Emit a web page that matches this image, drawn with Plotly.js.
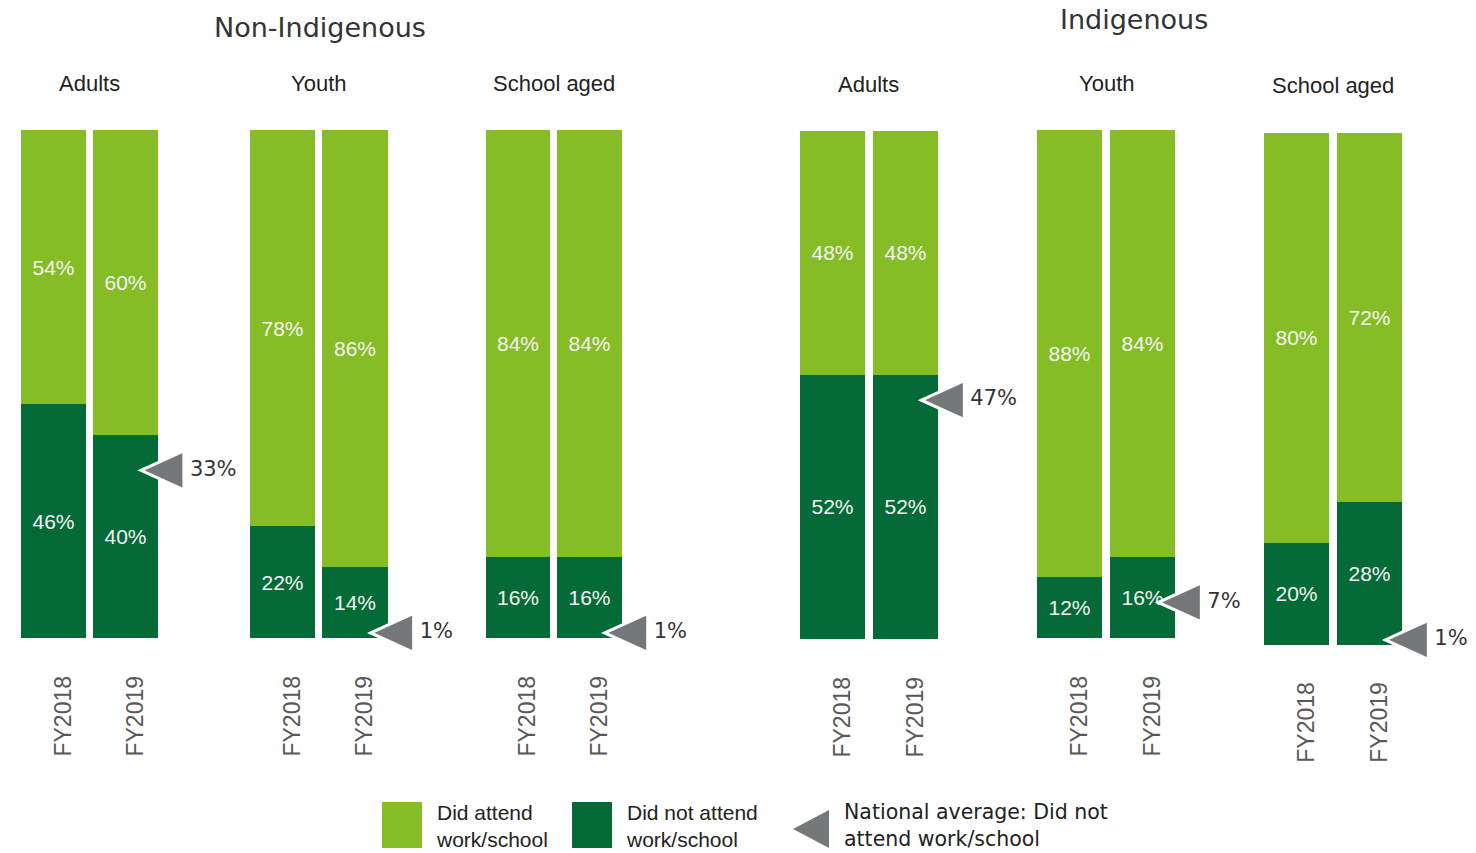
<!DOCTYPE html>
<html>
<head>
<meta charset="utf-8">
<script src="https://cdn.plot.ly/plotly-3.0.1.min.js"></script>
<style>html,body{margin:0;padding:0;background:#fff;}#chart{width:1476px;height:853px;}</style>
</head>
<body>
<div id="chart"></div>
<script>
// ---- Data ----
const groupTitles = ['Non-Indigenous', 'Indigenous'];
const panelTitles = ['Adults', 'Youth', 'School aged', 'Adults', 'Youth', 'School aged'];
const years = ['FY2018', 'FY2019'];
const didAttend = [[54, 60], [78, 86], [84, 84], [48, 48], [88, 84], [80, 72]];
const didNotAttend = [[46, 40], [22, 14], [16, 16], [52, 52], [12, 16], [20, 28]];
const nationalAvg = [33, 1, 1, 47, 7, 1];
const legendLabels = ['Did attend<br>work/school', 'Did not attend<br>work/school', 'National average: Did not<br>attend work/school'];

// ---- Layout geometry (pixels) ----
const W = 1476, H = 853;
const px = x => x / W;
const py = y => 1 - y / H;
const geom = [
  {c1: 53.5, c2: 125.5, top: 130, bot: 638, ty: 84},
  {c1: 282.5, c2: 355, top: 130, bot: 638, ty: 84},
  {c1: 518, c2: 589.5, top: 130, bot: 638, ty: 84},
  {c1: 832.5, c2: 905.5, top: 131, bot: 639, ty: 85},
  {c1: 1069.5, c2: 1142.5, top: 130, bot: 638, ty: 84},
  {c1: 1296.5, c2: 1369.5, top: 133, bot: 645, ty: 86}
];
const BAR_W = 0.9;
const EXTRA = 0.8;                 // extra x-range (category units) on the right for the marker
const YPAD = 5;                    // y-range padding below zero so the markers are not clipped
const EDGE_X = 1 + BAR_W / 2;      // right edge of the FY2019 bar
const TRI_PATH = 'M -17 0 L 26 19.5 L 26 -19.5 Z';   // triangle in pixels, anchored at the value
const LIGHT = '#86BC25', DARK = '#046A38', GREY = '#75787B';
const ARIAL = 'Liberation Sans, Arial, sans-serif';
const DEJAVU = 'DejaVu Sans, Verdana, sans-serif';

const traces = [];
const layout = {
  width: W, height: H,
  margin: {l: 0, r: 0, t: 0, b: 0},
  paper_bgcolor: '#ffffff', plot_bgcolor: 'rgba(0,0,0,0)',
  showlegend: false, barmode: 'stack',
  annotations: [], shapes: []
};

geom.forEach((g, i) => {
  const sfx = i === 0 ? '' : String(i + 1);
  const pitch = g.c2 - g.c1;
  const half = pitch / 2;
  const unitPx = (g.bot - g.top) / 100;
  layout['xaxis' + sfx] = {
    domain: [px(g.c1 - half), px(g.c2 + half + EXTRA * pitch)],
    range: [-0.5, 1.5 + EXTRA], tickvals: [0, 1], ticktext: years,
    tickangle: -90, showgrid: false, zeroline: false, showline: false, ticks: '',
    tickfont: {family: ARIAL, size: 23, color: '#595959'},
    ticklabelshift: 10, ticklabelstandoff: Math.round(32 - YPAD * unitPx),
    anchor: 'y' + sfx, fixedrange: true
  };
  layout['yaxis' + sfx] = {
    domain: [py(g.bot + YPAD * unitPx), py(g.top)], range: [-YPAD, 100], visible: false,
    anchor: 'x' + sfx, fixedrange: true
  };
  const common = {
    type: 'bar', x: [0, 1], width: BAR_W, xaxis: 'x' + sfx, yaxis: 'y' + sfx,
    textposition: 'inside', insidetextanchor: 'middle', textangle: 0,
    textfont: {family: ARIAL, size: 21, color: '#f4f4f4'},
    hoverinfo: 'skip', cliponaxis: false
  };
  traces.push(Object.assign({}, common, {
    y: didNotAttend[i], text: didNotAttend[i].map(v => v + '%'),
    marker: {color: DARK, line: {width: 0}}
  }));
  traces.push(Object.assign({}, common, {
    y: didAttend[i], text: didAttend[i].map(v => v + '%'),
    marker: {color: LIGHT, line: {width: 0}}
  }));
  // National average marker (triangle anchored at the value on this subplot's axes)
  layout.shapes.push({
    type: 'path', xref: 'x' + sfx, yref: 'y' + sfx,
    xsizemode: 'pixel', ysizemode: 'pixel',
    xanchor: EDGE_X, yanchor: nationalAvg[i],
    path: TRI_PATH, fillcolor: GREY, line: {color: '#ffffff', width: 3}, layer: 'above'
  });
  // National average label
  traces.push({
    type: 'scatter', mode: 'text', x: [EDGE_X + 32 / pitch], y: [nationalAvg[i]],
    xaxis: 'x' + sfx, yaxis: 'y' + sfx, cliponaxis: false,
    text: [nationalAvg[i] + '%'], textposition: 'middle right',
    textfont: {family: DEJAVU, size: 21, color: '#333333'},
    hoverinfo: 'skip'
  });
  layout.annotations.push({
    text: panelTitles[i], xref: 'paper', yref: 'paper',
    x: px((g.c1 + g.c2) / 2), y: py(g.ty), xanchor: 'center', yanchor: 'middle',
    showarrow: false, font: {family: ARIAL, size: 22, color: '#222222'}
  });
});

// Group titles
layout.annotations.push({
  text: groupTitles[0], xref: 'paper', yref: 'paper', x: px(320), y: py(27),
  xanchor: 'center', yanchor: 'middle', showarrow: false,
  font: {family: DEJAVU, size: 27, color: '#333333'}
});
layout.annotations.push({
  text: groupTitles[1], xref: 'paper', yref: 'paper', x: px(1134), y: py(19),
  xanchor: 'center', yanchor: 'middle', showarrow: false,
  font: {family: DEJAVU, size: 27, color: '#333333'}
});

// Custom legend
layout.shapes.push({type: 'rect', xref: 'paper', yref: 'paper',
  x0: px(382), x1: px(422), y0: py(848), y1: py(802), fillcolor: LIGHT, line: {width: 0}});
layout.shapes.push({type: 'rect', xref: 'paper', yref: 'paper',
  x0: px(572), x1: px(612), y0: py(848), y1: py(802), fillcolor: DARK, line: {width: 0}});
layout.shapes.push({type: 'path', xref: 'paper', yref: 'paper',
  path: 'M ' + px(793) + ' ' + py(829) + ' L ' + px(829) + ' ' + py(810) + ' L ' + px(829) + ' ' + py(848) + ' Z',
  fillcolor: GREY, line: {width: 0}});
const legendText = [
  {t: legendLabels[0], x: 435, y: 826, f: ARIAL, s: 21},
  {t: legendLabels[1], x: 625, y: 826, f: ARIAL, s: 21},
  {t: legendLabels[2], x: 843, y: 825, f: DEJAVU, s: 20.5}
];
legendText.forEach(l => layout.annotations.push({
  text: l.t, xref: 'paper', yref: 'paper', x: px(l.x), y: py(l.y),
  xanchor: 'left', yanchor: 'middle', align: 'left', showarrow: false, borderpad: 0,
  font: {family: l.f, size: l.s, color: '#222222'}
}));

Plotly.newPlot('chart', traces, layout, {staticPlot: true, displayModeBar: false});
</script>
</body>
</html>
